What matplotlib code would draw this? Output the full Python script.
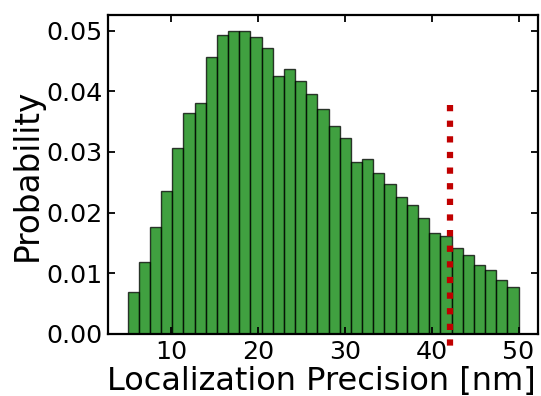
import matplotlib
matplotlib.use("Agg")
import matplotlib.pyplot as plt
import numpy as np

# histogram of localization precision (probability per bin)
bin_lo, bin_hi, n_bins = 5.0, 50.0, 35
probs = [0.0070, 0.0119, 0.0176, 0.0236, 0.0306, 0.0365, 0.0380, 0.0456,
         0.0492, 0.0500, 0.0500, 0.0490, 0.0471, 0.0425, 0.0437, 0.0417,
         0.0396, 0.0370, 0.0343, 0.0323, 0.0284, 0.0288, 0.0265, 0.0248,
         0.0226, 0.0212, 0.0191, 0.0166, 0.0161, 0.0142, 0.0130, 0.0114,
         0.0105, 0.0089, 0.0078]
cutoff = 42.1
cutoff_range = (0.0377, -0.0024)

edges = np.linspace(bin_lo, bin_hi, n_bins + 1)

fig = plt.figure(figsize=(5.41, 3.96), dpi=100)
ax = fig.add_axes([0.1996, 0.1566, 0.795, 0.806])

ax.bar(edges[:-1], probs, width=np.diff(edges), align='edge',
       color='g', alpha=0.75, edgecolor='k', linewidth=1.0)
# dotted cutoff marker, drawn top-down so it starts with a dash
ax.plot([cutoff, cutoff], cutoff_range, color='#c00000',
        linestyle=(0, (1.0, 1.5)), linewidth=4.5, clip_on=False, zorder=5)

ax.set_xlim(2.75, 52.25)
ax.set_ylim(0, 0.0526)
ax.set_yticks([0.0, 0.01, 0.02, 0.03, 0.04, 0.05])
ax.set_xticks([10, 20, 30, 40, 50])
ax.yaxis.set_major_formatter(plt.FormatStrFormatter('%.2f'))

ax.tick_params(direction='in', top=True, right=True, length=5, width=1.3,
               labelsize=18.3, pad=4)
for sp in ax.spines.values():
    sp.set_linewidth(1.6)

ax.set_xlabel('Localization Precision [nm]', fontsize=23, labelpad=1)
ax.xaxis.set_label_coords(0.495, -0.1)
ax.set_ylabel('Probability', fontsize=23.5, labelpad=2)

fig.savefig('out.png', dpi=100)
plt.close(fig)
